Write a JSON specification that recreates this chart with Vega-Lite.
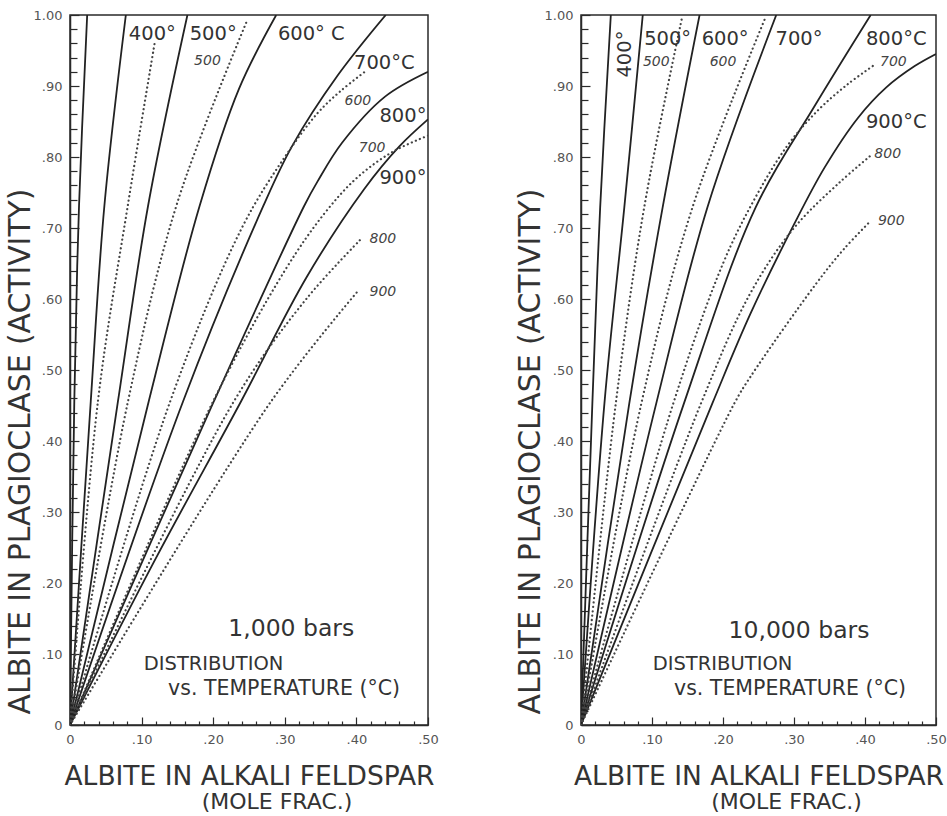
{
  "$schema": "https://vega.github.io/schema/vega-lite/v6.json",
  "background": "white",
  "padding": {"left": 4, "top": 8, "right": 0, "bottom": 4},
  "bounds": "flush",
  "spacing": 153,
  "config": {
    "view": {"stroke": "#2a2a2a", "strokeWidth": 1.5},
    "font": "DejaVu Sans",
    "title": {"font": "DejaVu Sans", "fontWeight": "normal", "color": "#333333"},
    "axis": {
      "grid": false,
      "domainColor": "#2a2a2a",
      "domainWidth": 1.5,
      "tickColor": "#2a2a2a",
      "tickWidth": 1.2,
      "labelColor": "#555555",
      "labelFont": "DejaVu Sans",
      "labelFontSize": 13,
      "labelOverlap": false,
      "labelFlush": false,
      "labelBound": false,
      "titleFont": "DejaVu Sans",
      "titleFontWeight": "normal",
      "titleColor": "#333333"
    }
  },
  "datasets": {
    "curves": [
      {"p":"1k","c":"S300","t":"solid","x":0,"y":0},{"p":"1k","c":"S300","t":"solid","x":0.006,"y":0.456},{"p":"1k","c":"S300","t":"solid","x":0.0126,"y":0.731},{"p":"1k","c":"S300","t":"solid","x":0.024,"y":1.0},
      {"p":"1k","c":"S400","t":"solid","x":0,"y":0},{"p":"1k","c":"S400","t":"solid","x":0.029,"y":0.456},{"p":"1k","c":"S400","t":"solid","x":0.048,"y":0.731},{"p":"1k","c":"S400","t":"solid","x":0.078,"y":1.0},
      {"p":"1k","c":"S500","t":"solid","x":0,"y":0},{"p":"1k","c":"S500","t":"solid","x":0.067,"y":0.456},{"p":"1k","c":"S500","t":"solid","x":0.109,"y":0.731},{"p":"1k","c":"S500","t":"solid","x":0.164,"y":1.0},
      {"p":"1k","c":"S600","t":"solid","x":0,"y":0},{"p":"1k","c":"S600","t":"solid","x":0.110,"y":0.456},{"p":"1k","c":"S600","t":"solid","x":0.181,"y":0.731},{"p":"1k","c":"S600","t":"solid","x":0.236,"y":0.896},{"p":"1k","c":"S600","t":"solid","x":0.288,"y":1.0},
      {"p":"1k","c":"S700","t":"solid","x":0,"y":0},{"p":"1k","c":"S700","t":"solid","x":0.158,"y":0.456},{"p":"1k","c":"S700","t":"solid","x":0.27,"y":0.731},{"p":"1k","c":"S700","t":"solid","x":0.31,"y":0.815},{"p":"1k","c":"S700","t":"solid","x":0.374,"y":0.915},{"p":"1k","c":"S700","t":"solid","x":0.441,"y":1.0},
      {"p":"1k","c":"S800","t":"solid","x":0,"y":0},{"p":"1k","c":"S800","t":"solid","x":0.201,"y":0.456},{"p":"1k","c":"S800","t":"solid","x":0.327,"y":0.731},{"p":"1k","c":"S800","t":"solid","x":0.346,"y":0.766},{"p":"1k","c":"S800","t":"solid","x":0.38,"y":0.82},{"p":"1k","c":"S800","t":"solid","x":0.44,"y":0.885},{"p":"1k","c":"S800","t":"solid","x":0.5,"y":0.92},
      {"p":"1k","c":"S900","t":"solid","x":0,"y":0},{"p":"1k","c":"S900","t":"solid","x":0.12,"y":0.235},{"p":"1k","c":"S900","t":"solid","x":0.239,"y":0.456},{"p":"1k","c":"S900","t":"solid","x":0.33,"y":0.63},{"p":"1k","c":"S900","t":"solid","x":0.411,"y":0.755},{"p":"1k","c":"S900","t":"solid","x":0.46,"y":0.815},{"p":"1k","c":"S900","t":"solid","x":0.5,"y":0.853},
      {"p":"1k","c":"D400","t":"dot","x":0,"y":0},{"p":"1k","c":"D400","t":"dot","x":0.039,"y":0.456},{"p":"1k","c":"D400","t":"dot","x":0.0806,"y":0.731},{"p":"1k","c":"D400","t":"dot","x":0.118,"y":0.959},
      {"p":"1k","c":"D500","t":"dot","x":0,"y":0},{"p":"1k","c":"D500","t":"dot","x":0.081,"y":0.456},{"p":"1k","c":"D500","t":"dot","x":0.150,"y":0.736},{"p":"1k","c":"D500","t":"dot","x":0.246,"y":0.989},
      {"p":"1k","c":"D600","t":"dot","x":0,"y":0},{"p":"1k","c":"D600","t":"dot","x":0.14,"y":0.456},{"p":"1k","c":"D600","t":"dot","x":0.24,"y":0.70},{"p":"1k","c":"D600","t":"dot","x":0.30,"y":0.80},{"p":"1k","c":"D600","t":"dot","x":0.346,"y":0.862},{"p":"1k","c":"D600","t":"dot","x":0.378,"y":0.893},{"p":"1k","c":"D600","t":"dot","x":0.413,"y":0.921},
      {"p":"1k","c":"D700","t":"dot","x":0,"y":0},{"p":"1k","c":"D700","t":"dot","x":0.2,"y":0.456},{"p":"1k","c":"D700","t":"dot","x":0.30,"y":0.64},{"p":"1k","c":"D700","t":"dot","x":0.355,"y":0.72},{"p":"1k","c":"D700","t":"dot","x":0.40,"y":0.77},{"p":"1k","c":"D700","t":"dot","x":0.45,"y":0.807},{"p":"1k","c":"D700","t":"dot","x":0.5,"y":0.83},
      {"p":"1k","c":"D800","t":"dot","x":0,"y":0},{"p":"1k","c":"D800","t":"dot","x":0.229,"y":0.456},{"p":"1k","c":"D800","t":"dot","x":0.33,"y":0.6},{"p":"1k","c":"D800","t":"dot","x":0.406,"y":0.684},
      {"p":"1k","c":"D900","t":"dot","x":0,"y":0},{"p":"1k","c":"D900","t":"dot","x":0.281,"y":0.456},{"p":"1k","c":"D900","t":"dot","x":0.402,"y":0.611},
      {"p":"10k","c":"S400","t":"solid","x":0,"y":0},{"p":"10k","c":"S400","t":"solid","x":0.016,"y":0.453},{"p":"10k","c":"S400","t":"solid","x":0.027,"y":0.729},{"p":"10k","c":"S400","t":"solid","x":0.042,"y":1.0},
      {"p":"10k","c":"S500","t":"solid","x":0,"y":0},{"p":"10k","c":"S500","t":"solid","x":0.033,"y":0.453},{"p":"10k","c":"S500","t":"solid","x":0.061,"y":0.729},{"p":"10k","c":"S500","t":"solid","x":0.087,"y":1.0},
      {"p":"10k","c":"S600","t":"solid","x":0,"y":0},{"p":"10k","c":"S600","t":"solid","x":0.068,"y":0.453},{"p":"10k","c":"S600","t":"solid","x":0.115,"y":0.729},{"p":"10k","c":"S600","t":"solid","x":0.167,"y":1.0},
      {"p":"10k","c":"S700","t":"solid","x":0,"y":0},{"p":"10k","c":"S700","t":"solid","x":0.106,"y":0.453},{"p":"10k","c":"S700","t":"solid","x":0.178,"y":0.729},{"p":"10k","c":"S700","t":"solid","x":0.275,"y":1.0},
      {"p":"10k","c":"S800","t":"solid","x":0,"y":0},{"p":"10k","c":"S800","t":"solid","x":0.145,"y":0.453},{"p":"10k","c":"S800","t":"solid","x":0.246,"y":0.729},{"p":"10k","c":"S800","t":"solid","x":0.328,"y":0.87},{"p":"10k","c":"S800","t":"solid","x":0.408,"y":1.0},
      {"p":"10k","c":"S900","t":"solid","x":0,"y":0},{"p":"10k","c":"S900","t":"solid","x":0.185,"y":0.453},{"p":"10k","c":"S900","t":"solid","x":0.239,"y":0.58},{"p":"10k","c":"S900","t":"solid","x":0.30,"y":0.705},{"p":"10k","c":"S900","t":"solid","x":0.343,"y":0.785},{"p":"10k","c":"S900","t":"solid","x":0.39,"y":0.855},{"p":"10k","c":"S900","t":"solid","x":0.43,"y":0.898},{"p":"10k","c":"S900","t":"solid","x":0.47,"y":0.928},{"p":"10k","c":"S900","t":"solid","x":0.5,"y":0.945},
      {"p":"10k","c":"D500","t":"dot","x":0,"y":0},{"p":"10k","c":"D500","t":"dot","x":0.049,"y":0.453},{"p":"10k","c":"D500","t":"dot","x":0.089,"y":0.729},{"p":"10k","c":"D500","t":"dot","x":0.142,"y":0.995},
      {"p":"10k","c":"D600","t":"dot","x":0,"y":0},{"p":"10k","c":"D600","t":"dot","x":0.085,"y":0.453},{"p":"10k","c":"D600","t":"dot","x":0.157,"y":0.729},{"p":"10k","c":"D600","t":"dot","x":0.26,"y":0.997},
      {"p":"10k","c":"D700","t":"dot","x":0,"y":0},{"p":"10k","c":"D700","t":"dot","x":0.13,"y":0.453},{"p":"10k","c":"D700","t":"dot","x":0.20,"y":0.65},{"p":"10k","c":"D700","t":"dot","x":0.244,"y":0.74},{"p":"10k","c":"D700","t":"dot","x":0.29,"y":0.815},{"p":"10k","c":"D700","t":"dot","x":0.333,"y":0.865},{"p":"10k","c":"D700","t":"dot","x":0.375,"y":0.902},{"p":"10k","c":"D700","t":"dot","x":0.415,"y":0.931},
      {"p":"10k","c":"D800","t":"dot","x":0,"y":0},{"p":"10k","c":"D800","t":"dot","x":0.169,"y":0.453},{"p":"10k","c":"D800","t":"dot","x":0.239,"y":0.609},{"p":"10k","c":"D800","t":"dot","x":0.30,"y":0.70},{"p":"10k","c":"D800","t":"dot","x":0.364,"y":0.764},{"p":"10k","c":"D800","t":"dot","x":0.408,"y":0.802},
      {"p":"10k","c":"D900","t":"dot","x":0,"y":0},{"p":"10k","c":"D900","t":"dot","x":0.216,"y":0.453},{"p":"10k","c":"D900","t":"dot","x":0.239,"y":0.491},{"p":"10k","c":"D900","t":"dot","x":0.33,"y":0.62},{"p":"10k","c":"D900","t":"dot","x":0.37,"y":0.67},{"p":"10k","c":"D900","t":"dot","x":0.408,"y":0.71}
    ],
    "labels": [
      {"p":"1k","k":"big","text":"400°","x":0.115,"y":0.973},
      {"p":"1k","k":"big","text":"500°","x":0.200,"y":0.973},
      {"p":"1k","k":"big","text":"600° C","x":0.337,"y":0.973},
      {"p":"1k","k":"big","text":"700°C","x":0.439,"y":0.932},
      {"p":"1k","k":"big","text":"800°","x":0.465,"y":0.858},
      {"p":"1k","k":"big","text":"900°","x":0.465,"y":0.770},
      {"p":"1k","k":"small","text":"500","x":0.192,"y":0.935},
      {"p":"1k","k":"small","text":"600","x":0.402,"y":0.879},
      {"p":"1k","k":"small","text":"700","x":0.422,"y":0.813},
      {"p":"1k","k":"small","text":"800","x":0.437,"y":0.685},
      {"p":"1k","k":"small","text":"900","x":0.437,"y":0.610},
      {"p":"1k","k":"bars","text":"1,000 bars","x":0.309,"y":0.135},
      {"p":"1k","k":"dist1","text":"DISTRIBUTION","x":0.103,"y":0.086},
      {"p":"1k","k":"dist2","text":"vs. TEMPERATURE (°C)","x":0.137,"y":0.051},
      {"p":"10k","k":"rot","text":"400°","x":0.062,"y":0.945},
      {"p":"10k","k":"big","text":"500°","x":0.122,"y":0.966},
      {"p":"10k","k":"big","text":"600°","x":0.203,"y":0.966},
      {"p":"10k","k":"big","text":"700°","x":0.307,"y":0.966},
      {"p":"10k","k":"big","text":"800°C","x":0.444,"y":0.966},
      {"p":"10k","k":"big","text":"900°C","x":0.444,"y":0.849},
      {"p":"10k","k":"small","text":"500","x":0.106,"y":0.934},
      {"p":"10k","k":"small","text":"600","x":0.200,"y":0.934},
      {"p":"10k","k":"small","text":"700","x":0.440,"y":0.934},
      {"p":"10k","k":"small","text":"800","x":0.432,"y":0.804},
      {"p":"10k","k":"small","text":"900","x":0.437,"y":0.710},
      {"p":"10k","k":"bars","text":"10,000 bars","x":0.307,"y":0.133},
      {"p":"10k","k":"dist1","text":"DISTRIBUTION","x":0.101,"y":0.086},
      {"p":"10k","k":"dist2","text":"vs. TEMPERATURE (°C)","x":0.131,"y":0.051}
    ]
  },
  "hconcat": [
    {
      "width": 358,
      "height": 710,
      "title": {"text": "(MOLE FRAC.)", "orient": "bottom", "anchor": "middle", "fontSize": 22, "dx": 28, "offset": 2},
      "encoding": {
        "x": {"field": "x", "type": "quantitative", "scale": {"domain": [0, 0.5], "nice": false, "zero": false},
          "axis": {
            "values": [0,0.02,0.04,0.06,0.08,0.1,0.12,0.14,0.16,0.18,0.2,0.22,0.24,0.26,0.28,0.3,0.32,0.34,0.36,0.38,0.4,0.42,0.44,0.46,0.48,0.5],
            "labelExpr": "abs(datum.value*10 - round(datum.value*10)) < 0.001 ? (datum.value == 0 ? '0' : replace(format(datum.value, '.2f'), '0.', '.')) : ''",
            "tickSize": {"condition": {"test": "abs(datum.value*10 - round(datum.value*10)) < 0.001", "value": -8}, "value": -4},
            "labelPadding": 16,
            "title": "ALBITE IN ALKALI FELDSPAR",
            "titleFontSize": 26.5,
            "titleBaseline": "top",
            "titleY": 38
          }},
        "y": {"field": "y", "type": "quantitative", "scale": {"domain": [0, 1], "nice": false, "zero": false},
          "axis": {
            "values": [0,0.02,0.04,0.06,0.08,0.1,0.12,0.14,0.16,0.18,0.2,0.22,0.24,0.26,0.28,0.3,0.32,0.34,0.36,0.38,0.4,0.42,0.44,0.46,0.48,0.5,0.52,0.54,0.56,0.58,0.6,0.62,0.64,0.66,0.68,0.7,0.72,0.74,0.76,0.78,0.8,0.82,0.84,0.86,0.88,0.9,0.92,0.94,0.96,0.98,1],
            "labelExpr": "abs(datum.value*10 - round(datum.value*10)) < 0.001 ? (datum.value == 0 ? '0' : replace(format(datum.value, '.2f'), '0.', '.')) : ''",
            "tickSize": {"condition": {"test": "abs(datum.value*10 - round(datum.value*10)) < 0.001", "value": -9}, "value": -7},
            "labelPadding": 17,
            "title": "ALBITE IN PLAGIOCLASE (ACTIVITY)",
            "titleFontSize": 29.8,
            "titleAngle": 270,
            "titleAlign": "center",
            "titleBaseline": "middle",
            "titleX": -50,
            "titleY": 436
          }}
      },
      "layer": [
        {"data": {"name": "curves"}, "transform": [{"filter": "datum.p == '1k' && datum.t == 'solid'"}],
         "mark": {"type": "line", "interpolate": "catmull-rom", "stroke": "#222222", "strokeWidth": 1.8, "clip": true},
         "encoding": {"detail": {"field": "c"}}},
        {"data": {"name": "curves"}, "transform": [{"filter": "datum.p == '1k' && datum.t == 'dot'"}],
         "mark": {"type": "line", "interpolate": "catmull-rom", "stroke": "#444444", "strokeWidth": 2.2, "strokeDash": [0.1, 4.3], "strokeCap": "round", "clip": true},
         "encoding": {"detail": {"field": "c"}}},
        {"data": {"name": "labels"}, "transform": [{"filter": "datum.p == '1k' && datum.k == 'big'"}],
         "mark": {"type": "text", "fontSize": 19.5, "color": "#333333", "align": "center", "baseline": "middle"},
         "encoding": {"text": {"field": "text"}}},
        {"data": {"name": "labels"}, "transform": [{"filter": "datum.p == '1k' && datum.k == 'small'"}],
         "mark": {"type": "text", "fontSize": 14, "fontStyle": "italic", "color": "#444444", "align": "center", "baseline": "middle"},
         "encoding": {"text": {"field": "text"}}},
        {"data": {"name": "labels"}, "transform": [{"filter": "datum.p == '1k' && datum.k == 'bars'"}],
         "mark": {"type": "text", "fontSize": 23.5, "color": "#333333", "align": "center", "baseline": "middle"},
         "encoding": {"text": {"field": "text"}}},
        {"data": {"name": "labels"}, "transform": [{"filter": "datum.p == '1k' && datum.k == 'dist1'"}],
         "mark": {"type": "text", "fontSize": 19.5, "color": "#333333", "align": "left", "baseline": "middle"},
         "encoding": {"text": {"field": "text"}}},
        {"data": {"name": "labels"}, "transform": [{"filter": "datum.p == '1k' && datum.k == 'dist2'"}],
         "mark": {"type": "text", "fontSize": 20.5, "color": "#333333", "align": "left", "baseline": "middle"},
         "encoding": {"text": {"field": "text"}}}
      ]
    },
    {
      "width": 355,
      "height": 710,
      "title": {"text": "(MOLE FRAC.)", "orient": "bottom", "anchor": "middle", "fontSize": 22, "dx": 28, "offset": 2},
      "encoding": {
        "x": {"field": "x", "type": "quantitative", "scale": {"domain": [0, 0.5], "nice": false, "zero": false},
          "axis": {
            "values": [0,0.02,0.04,0.06,0.08,0.1,0.12,0.14,0.16,0.18,0.2,0.22,0.24,0.26,0.28,0.3,0.32,0.34,0.36,0.38,0.4,0.42,0.44,0.46,0.48,0.5],
            "labelExpr": "abs(datum.value*10 - round(datum.value*10)) < 0.001 ? (datum.value == 0 ? '0' : replace(format(datum.value, '.2f'), '0.', '.')) : ''",
            "tickSize": {"condition": {"test": "abs(datum.value*10 - round(datum.value*10)) < 0.001", "value": -8}, "value": -4},
            "labelPadding": 16,
            "title": "ALBITE IN ALKALI FELDSPAR",
            "titleFontSize": 26.5,
            "titleBaseline": "top",
            "titleY": 38
          }},
        "y": {"field": "y", "type": "quantitative", "scale": {"domain": [0, 1], "nice": false, "zero": false},
          "axis": {
            "values": [0,0.02,0.04,0.06,0.08,0.1,0.12,0.14,0.16,0.18,0.2,0.22,0.24,0.26,0.28,0.3,0.32,0.34,0.36,0.38,0.4,0.42,0.44,0.46,0.48,0.5,0.52,0.54,0.56,0.58,0.6,0.62,0.64,0.66,0.68,0.7,0.72,0.74,0.76,0.78,0.8,0.82,0.84,0.86,0.88,0.9,0.92,0.94,0.96,0.98,1],
            "labelExpr": "abs(datum.value*10 - round(datum.value*10)) < 0.001 ? (datum.value == 0 ? '0' : replace(format(datum.value, '.2f'), '0.', '.')) : ''",
            "tickSize": {"condition": {"test": "abs(datum.value*10 - round(datum.value*10)) < 0.001", "value": -9}, "value": -7},
            "labelPadding": 17,
            "title": "ALBITE IN PLAGIOCLASE (ACTIVITY)",
            "titleFontSize": 29.8,
            "titleAngle": 270,
            "titleAlign": "center",
            "titleBaseline": "middle",
            "titleX": -51,
            "titleY": 436
          }}
      },
      "layer": [
        {"data": {"name": "curves"}, "transform": [{"filter": "datum.p == '10k' && datum.t == 'solid'"}],
         "mark": {"type": "line", "interpolate": "catmull-rom", "stroke": "#222222", "strokeWidth": 1.8, "clip": true},
         "encoding": {"detail": {"field": "c"}}},
        {"data": {"name": "curves"}, "transform": [{"filter": "datum.p == '10k' && datum.t == 'dot'"}],
         "mark": {"type": "line", "interpolate": "catmull-rom", "stroke": "#444444", "strokeWidth": 2.2, "strokeDash": [0.1, 4.3], "strokeCap": "round", "clip": true},
         "encoding": {"detail": {"field": "c"}}},
        {"data": {"name": "labels"}, "transform": [{"filter": "datum.p == '10k' && datum.k == 'big'"}],
         "mark": {"type": "text", "fontSize": 19.5, "color": "#333333", "align": "center", "baseline": "middle"},
         "encoding": {"text": {"field": "text"}}},
        {"data": {"name": "labels"}, "transform": [{"filter": "datum.p == '10k' && datum.k == 'rot'"}],
         "mark": {"type": "text", "fontSize": 19.5, "color": "#333333", "align": "center", "baseline": "middle", "angle": 270},
         "encoding": {"text": {"field": "text"}}},
        {"data": {"name": "labels"}, "transform": [{"filter": "datum.p == '10k' && datum.k == 'small'"}],
         "mark": {"type": "text", "fontSize": 14, "fontStyle": "italic", "color": "#444444", "align": "center", "baseline": "middle"},
         "encoding": {"text": {"field": "text"}}},
        {"data": {"name": "labels"}, "transform": [{"filter": "datum.p == '10k' && datum.k == 'bars'"}],
         "mark": {"type": "text", "fontSize": 23.5, "color": "#333333", "align": "center", "baseline": "middle"},
         "encoding": {"text": {"field": "text"}}},
        {"data": {"name": "labels"}, "transform": [{"filter": "datum.p == '10k' && datum.k == 'dist1'"}],
         "mark": {"type": "text", "fontSize": 19.5, "color": "#333333", "align": "left", "baseline": "middle"},
         "encoding": {"text": {"field": "text"}}},
        {"data": {"name": "labels"}, "transform": [{"filter": "datum.p == '10k' && datum.k == 'dist2'"}],
         "mark": {"type": "text", "fontSize": 20.5, "color": "#333333", "align": "left", "baseline": "middle"},
         "encoding": {"text": {"field": "text"}}}
      ]
    }
  ]
}
